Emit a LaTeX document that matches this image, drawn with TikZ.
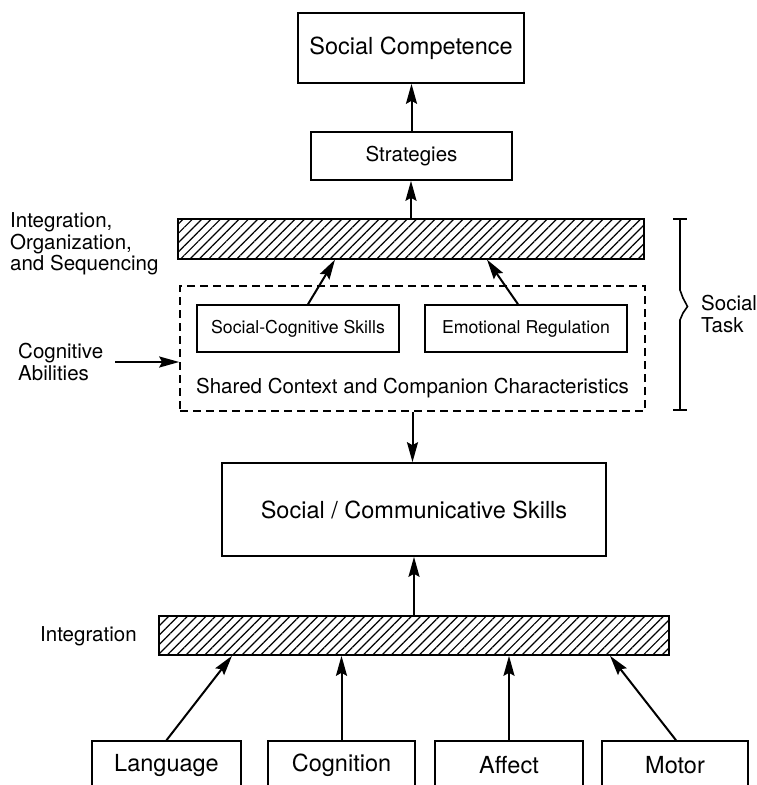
\documentclass[tikz,border=0pt]{standalone}
\usepackage{fontspec}
\setmainfont{TeX Gyre Heros}
\usetikzlibrary{arrows.meta,patterns.meta,calc}

\tikzset{
  box/.style={draw, line width=1.6pt, inner sep=0pt, align=center},
  hatchbar/.style={draw, line width=1.6pt, inner sep=0pt,
    pattern={Lines[angle=45,distance=6.6pt,line width=1.2pt]}},
  arr/.style={line width=2pt, -{Stealth[length=20pt,width=11pt,inset=3pt]}},
  lbl/.style={inner sep=0pt, align=left, anchor=west},
}
\newcommand{\bigtxt}{\fontsize{23.5}{27}\selectfont}
\newcommand{\midtxt}{\fontsize{20.5}{21.5}\selectfont}
\newcommand{\smtxt}{\fontsize{17.7}{20}\selectfont}

\begin{document}
\begin{tikzpicture}[x=1pt,y=-1pt]
		\useasboundingbox (0,0) rectangle (757,785);
		\clip (0,0) rectangle (757,785);
		% top of the model
		\node[box, font=\bigtxt, minimum width=226pt, minimum height=70pt] (comp) at (411,48) {Social Competence};
		\node[box, font=\midtxt, minimum width=201pt, minimum height=48pt] (strat) at (411.5,156) {Strategies};
		\node[hatchbar, minimum width=466pt, minimum height=40pt] (bar1) at (411,239) {};
		% social task block
		\node[draw, line width=1.6pt, dash pattern=on 8pt off 5pt, minimum width=465pt, minimum height=125pt] (shared) at (412.5,348.5) {};
		\node[box, font=\smtxt, minimum width=202pt, minimum height=47pt] (scs) at (298,328.5) {Social-Cognitive Skills};
		\node[box, font=\smtxt, minimum width=202pt, minimum height=47pt] (emo) at (526,328.5) {Emotional Regulation};
		\node[inner sep=0pt, font=\midtxt] (ctx) at (412.5,388) {Shared Context and Companion Characteristics};
		% lower part
		\node[box, font=\bigtxt, minimum width=384pt, minimum height=93pt] (comm) at (414,509.5) {Social / Communicative Skills};
		\node[hatchbar, minimum width=510pt, minimum height=39pt] (bar2) at (414,635.5) {};
		\node[box, font=\bigtxt, minimum width=149pt, minimum height=48pt] (lang) at (166.5,765) {Language};
		\node[box, font=\bigtxt, minimum width=147pt, minimum height=48pt] (cogn) at (341.5,765) {Cognition};
		\node[box, font=\bigtxt, minimum width=148pt, minimum height=48pt] (aff) at (509,765) {Affect};
		\node[box, font=\bigtxt, minimum width=146pt, minimum height=48pt] (mot) at (675,765) {Motor};
		% side labels
		\node[lbl, font=\midtxt] (intorg) at (10,244) {Integration,\\Organization,\\and Sequencing};
		\node[lbl, font=\midtxt] (cogab) at (18,362) {Cognitive\\Abilities};
		\node[lbl, font=\midtxt] (task) at (701,314) {Social\\Task};
		\node[lbl, font=\midtxt] (integ) at (40,636) {Integration};
		% bracket for the social task
		\draw[line width=1.6pt] (673,219) -- (687,219);
		\draw[line width=1.6pt] (673,410) -- (687,410);
		\draw[line width=1.6pt] (680,219) -- (680,290) -- (683,298) -- (687.5,306.5) -- (683,313) -- (680,320) -- (680,410);
		% arrows
		\draw[arr] (strat.north) -- (strat.north |- comp.south);
		\draw[arr] (bar1.north) -- (bar1.north |- strat.south);
		\draw[arr] ([xshift=10pt]scs.north) -- ([xshift=-76pt]bar1.south);
		\draw[arr] ([xshift=-8pt]emo.north) -- ([xshift=76pt]bar1.south);
		\draw[arr] ([xshift=12pt]cogab.east) -- (cogab.east -| shared.west);
		\draw[arr] (shared.south) -- (shared.south |- comm.north);
		\draw[arr] (comm.south |- bar2.north) -- (comm.south);
		\draw[arr] (lang.north) -- ([xshift=-182pt]bar2.south);
		\draw[arr] (cogn.north) -- (cogn.north |- bar2.south);
		\draw[arr] (aff.north) -- (aff.north |- bar2.south);
		\draw[arr] ([xshift=1pt]mot.north) -- ([xshift=196pt]bar2.south);
	\end{tikzpicture}
\end{document}
